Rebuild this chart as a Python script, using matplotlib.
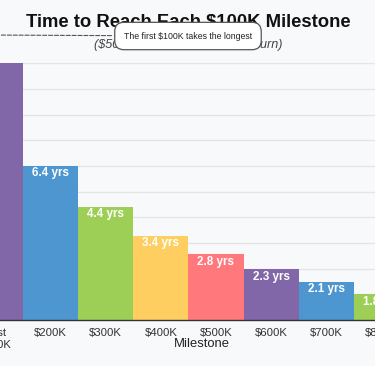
import matplotlib
matplotlib.use("Agg")
import matplotlib.pyplot as plt

plt.rcParams['font.family'] = ['Liberation Sans', 'DejaVu Sans']

# milestones and time (years) needed to reach each one
milestones = ["First\n$100K", "$200K", "$300K", "$400K", "$500K", "$600K", "$700K", "$800K"]
bar_years = [11.1, 6.0, 4.4, 3.27, 2.56, 1.98, 1.49, 1.0]
label_years = [11.1, 6.4, 4.4, 3.4, 2.8, 2.3, 2.1, 1.8]
colors = ["#8267a8", "#4d96d0", "#9dcf56", "#fecf60", "#ff787c",
          "#8267a8", "#4d96d0", "#9dcf56"]

bg = "#f8f9fa"
fig = plt.figure(figsize=(3.75, 3.66), dpi=100, facecolor=bg)
ax = fig.add_axes([-0.0864, 0.1257, 1.1776, 0.7014], facecolor=bg)

x = list(range(len(milestones)))
ax.bar(x, bar_years, width=1.0, color=colors, linewidth=0, zorder=2)

for xi, h, v in zip(x, bar_years, label_years):
    ax.annotate(f"{v:.1f} yrs", xy=(xi, h), xytext=(0, -1), textcoords="offset points",
                ha="center", va="top", color="white", fontsize=8.4,
                fontweight="bold", clip_on=True, zorder=3)

ax.set_xlim(-0.5, len(milestones) - 0.5)
ax.set_ylim(0, 10)
ax.set_yticks(range(0, 11))
ax.grid(axis="y", color="#e4e5e7", linewidth=1, zorder=0)
ax.set_axisbelow(True)

ax.set_xticks(x)
ax.set_xticklabels(milestones, fontsize=8.2, color="#333333")
ax.tick_params(axis="x", length=0, pad=6)
ax.tick_params(axis="y", length=0)

for s in ["top", "right", "left"]:
    ax.spines[s].set_visible(False)
ax.spines["bottom"].set_color("#333333")
ax.spines["bottom"].set_linewidth(1)

ax.set_xlabel("Milestone", fontsize=9.4, color="#222222")
ax.xaxis.set_label_coords(0.5308, -0.0935)
ax.xaxis.label.set_va("center")

# title and subtitle live in the axes so the note box can sit on top of them
ax.text(0.501, 0.938, "Time to Reach Each $100K Milestone", transform=fig.transFigure,
        ha="center", va="center", fontsize=13.3, fontweight="bold", color="#111111", zorder=4)
ax.text(0.501, 0.877, "($500/month at 7% annual return)", transform=fig.transFigure,
        ha="center", va="center", fontsize=9.1, style="italic", color="#444444", zorder=4)

ax.annotate("The first $100K takes the longest", xy=(0, bar_years[0]), xycoords="data",
            xytext=(0.5013, 0.9016), textcoords="figure fraction",
            ha="center", va="center", fontsize=6.3, color="#222222",
            bbox=dict(boxstyle="round,pad=1.05", fc="white", ec="#555555", lw=0.9),
            arrowprops=dict(arrowstyle="-", linestyle="--", color="#555555", lw=0.8),
            annotation_clip=False, zorder=6)

fig.savefig("out.png", dpi=100, facecolor=bg)
